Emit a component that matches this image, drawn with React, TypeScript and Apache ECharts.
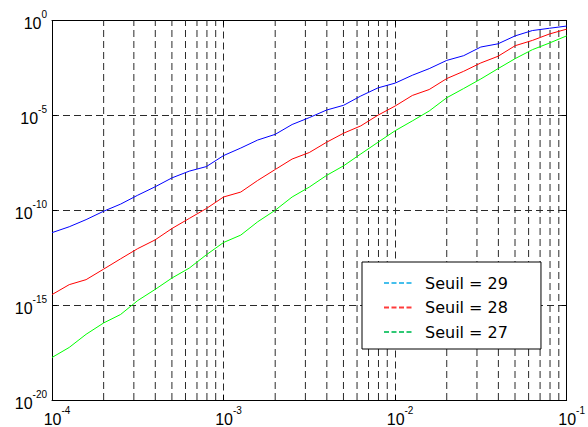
import { useEffect, useRef } from "react";
import * as echarts from "echarts";

const xValues = [
  1.0e-4, 1.26e-4, 1.58e-4, 2.0e-4, 2.51e-4, 3.16e-4, 3.98e-4, 5.01e-4, 6.31e-4, 7.94e-4,
  1.0e-3, 1.26e-3, 1.58e-3, 2.0e-3, 2.51e-3, 3.16e-3, 3.98e-3, 5.01e-3, 6.31e-3, 7.94e-3,
  1.0e-2, 1.26e-2, 1.58e-2, 2.0e-2, 2.51e-2, 3.16e-2, 3.98e-2, 5.01e-2, 6.31e-2, 7.94e-2,
  1.0e-1,
];

const seuil29 = [
  6.6e-12, 1.35e-11, 3.2e-11, 8.9e-11, 2.1e-10, 6.2e-10, 1.7e-9, 5.1e-9, 1.15e-8, 2.0e-8,
  7.6e-8, 1.9e-7, 5.0e-7, 1.0e-6, 3.3e-6, 7.6e-6, 1.9e-5, 3.4e-5, 1.05e-4, 2.8e-4,
  5.0e-4, 1.3e-3, 2.9e-3, 7.9e-3, 1.4e-2, 4.0e-2, 5.9e-2, 0.155, 0.295, 0.39,
  0.51,
];

const seuil28 = [
  3.6e-15, 1.2e-14, 2.2e-14, 7.9e-14, 2.75e-13, 9.5e-13, 2.7e-12, 1.1e-11, 3.7e-11, 1.23e-10,
  5.0e-10, 9.1e-10, 3.7e-9, 1.4e-8, 5.0e-8, 1.1e-7, 3.8e-7, 1.15e-6, 2.8e-6, 1.02e-5,
  3.1e-5, 1.12e-4, 2.3e-4, 8.7e-4, 2.1e-3, 5.8e-3, 1.3e-2, 4.7e-2, 8.9e-2, 0.195,
  0.35,
];

const seuil27 = [
  1.74e-18, 5.9e-18, 2.9e-17, 1.15e-16, 3.2e-16, 1.74e-15, 6.6e-15, 2.7e-14, 8.9e-14, 4.5e-13,
  2.0e-12, 4.9e-12, 2.45e-11, 1.0e-10, 5.0e-10, 1.66e-9, 6.8e-9, 2.2e-8, 9.3e-8, 3.8e-7,
  1.55e-6, 5.1e-6, 1.7e-5, 8.5e-5, 2.6e-4, 8.3e-4, 2.9e-3, 9.8e-3, 2.9e-2, 6.5e-2,
  0.155,
];

const seriesNames = ["Seuil = 29", "Seuil = 28", "Seuil = 27"];
const lineColors = ["#0000ff", "#ff0000", "#00ff00"];
const legendColors = ["#45bfec", "#ff3b3b", "#2ec874"];

const xMin = 1e-4;
const xMax = 1e-1;
const yMin = 1e-20;
const yMax = 1;

const xMinorTicks = [
  2e-4, 3e-4, 4e-4, 5e-4, 6e-4, 7e-4, 8e-4, 9e-4,
  2e-3, 3e-3, 4e-3, 5e-3, 6e-3, 7e-3, 8e-3, 9e-3,
  2e-2, 3e-2, 4e-2, 5e-2, 6e-2, 7e-2, 8e-2, 9e-2,
];

const gridDash = [7, 4];
const gridColor = "#2a2a2a";

function powLabel(v: number) {
  const e = Math.round(Math.log10(v));
  return `{b|10}{e|${e}}`;
}

export default function App() {
  const ref = useRef<HTMLDivElement>(null);
  useEffect(() => {
    if (!ref.current) return;
    const chart = echarts.init(ref.current, undefined, { renderer: "svg" });
    const font = "'Liberation Sans', Arial, sans-serif";
    const richX = {
      b: { fontFamily: font, fontSize: 16, color: "#000", lineHeight: 22, verticalAlign: "bottom", padding: [0, 0, 0, 10] },
      e: { fontFamily: font, fontSize: 10, color: "#000", lineHeight: 9, verticalAlign: "top" },
    };
    const richY = {
      b: { fontFamily: font, fontSize: 16, color: "#000", lineHeight: 22, verticalAlign: "bottom" },
      e: { fontFamily: font, fontSize: 10, color: "#000", lineHeight: 9, verticalAlign: "top" },
    };
    const datasets = [seuil29, seuil28, seuil27];
    const series: any[] = [];
    // minor vertical grid lines, one dashed segment per minor tick (drawn through the axes)
    xMinorTicks.forEach((x, i) => {
      series.push({
        name: "minor-" + i,
        type: "line",
        data: [
          [x, yMin],
          [x, yMax],
        ],
        symbol: "none",
        showSymbol: false,
        silent: true,
        z: 1,
        lineStyle: { color: gridColor, width: 1, type: gridDash },
        emphasis: { disabled: true },
        tooltip: { show: false },
      });
    });
    datasets.forEach((vals, i) => {
      series.push({
        name: seriesNames[i],
        type: "line",
        data: xValues.map((x, j) => [x, vals[j]]),
        symbol: "none",
        showSymbol: false,
        lineStyle: { color: lineColors[i], width: 1 },
        itemStyle: { color: lineColors[i] },
        z: 3,
      });
    });
    const axisCommonX = {
      type: "log",
      logBase: 10,
      min: xMin,
      max: xMax,
      interval: 1,
    };
    const axisCommonY = {
      type: "log",
      logBase: 10,
      min: yMin,
      max: yMax,
      interval: 5,
      splitNumber: 4,
    };
    chart.setOption({
      animation: false,
      backgroundColor: "#fff",
      grid: { left: 52, right: 20, top: 20.5, bottom: 24, containLabel: false },
      legend: {
        orient: "vertical",
        left: 362,
        top: 262,
        padding: [13, 33, 9, 21],
        itemWidth: 28,
        itemHeight: 14,
        itemGap: 8.5,
        selectedMode: false,
        borderColor: "#000",
        borderWidth: 1,
        backgroundColor: "#fff",
        z: 10,
        textStyle: { fontFamily: "'DejaVu Sans', sans-serif", fontSize: 16, color: "#000", padding: [0, 0, 0, 8] },
        data: seriesNames.map((n, i) => ({
          name: n,
          lineStyle: { color: legendColors[i], width: 2, type: [5, 2.5] },
          itemStyle: { color: legendColors[i], opacity: 0 },
        })),
      },
      xAxis: [
        {
          ...axisCommonX,
          position: "bottom",
          axisLine: { show: true, onZero: false, lineStyle: { color: "#000", width: 1 } },
          axisTick: { show: true, inside: true, length: 5, lineStyle: { color: "#000" } },
          axisLabel: { margin: 5, formatter: powLabel, rich: richX },
          splitLine: { show: true, lineStyle: { color: gridColor, width: 1, type: gridDash } },
        },
        {
          ...axisCommonX,
          position: "top",
          axisLine: { show: true, onZero: false, lineStyle: { color: "#000", width: 1 } },
          axisTick: { show: true, inside: true, length: 5, lineStyle: { color: "#000" } },
          axisLabel: { show: false },
          splitLine: { show: false },
        },
      ],
      yAxis: [
        {
          ...axisCommonY,
          position: "left",
          axisLine: { show: true, onZero: false, lineStyle: { color: "#000", width: 1 } },
          axisTick: { show: true, inside: true, length: 5, lineStyle: { color: "#000" } },
          axisLabel: { margin: 5, formatter: powLabel, rich: richY },
          splitLine: { show: true, lineStyle: { color: gridColor, width: 1, type: gridDash } },
        },
        {
          ...axisCommonY,
          position: "right",
          axisLine: { show: true, onZero: false, lineStyle: { color: "#000", width: 1 } },
          axisTick: { show: true, inside: true, length: 5, lineStyle: { color: "#000" } },
          axisLabel: { show: false },
          splitLine: { show: false },
        },
      ],
      series,
    });
    return () => chart.dispose();
  }, []);
  return (
    <div
      ref={ref}
      style={{ position: "fixed", left: 0, top: 0, width: 588, height: 427, background: "#fff" }}
    />
  );
}
